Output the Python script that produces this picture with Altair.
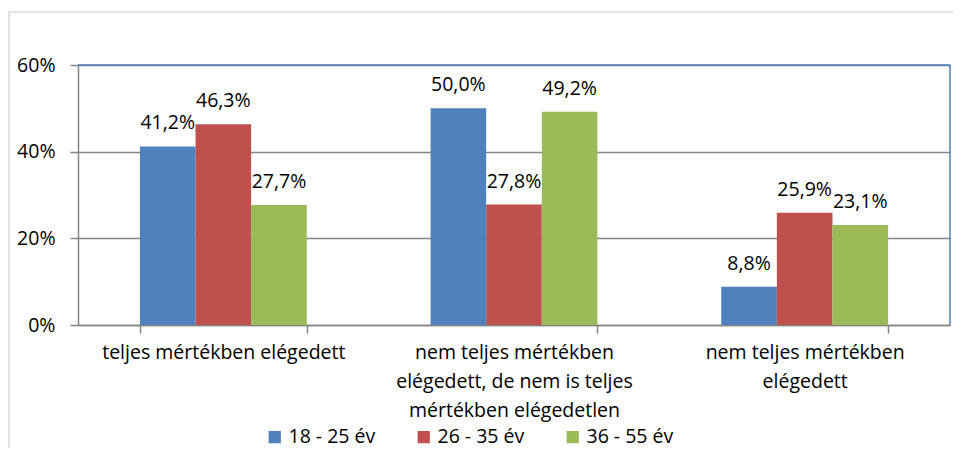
import altair as alt
import pandas as pd

categories = [
    "teljes mértékben elégedett",
    "nem teljes mértékben elégedett, de nem is teljes mértékben elégedetlen",
    "nem teljes mértékben elégedett",
]
category_lines = [
    ["teljes mértékben elégedett"],
    ["nem teljes mértékben", "elégedett, de nem is teljes", "mértékben elégedetlen"],
    ["nem teljes mértékben", "elégedett"],
]
groups = ["18 - 25 év", "26 - 35 év", "36 - 55 év"]
colors = ["#4F81BD", "#C0504D", "#9BBB59"]
values = [
    [41.2, 46.3, 27.7],
    [50.0, 27.8, 49.2],
    [8.8, 25.9, 23.1],
]
y_ticks = [0, 20, 40, 60]

rows = []
for ci, cat in enumerate(categories):
    for gi, g in enumerate(groups):
        v = values[ci][gi]
        rows.append({"cat": cat, "grp": g, "val": v,
                     "lbl": f"{v:.1f}".replace(".", ",") + "%"})
df = pd.DataFrame(rows)

FONT = "Open Sans"
FS = 19.5
W, H = 872, 260

label_expr = ""
for cat, lines in zip(categories, category_lines):
    arr = "[" + ",".join("'" + l + "'" for l in lines) + "]"
    label_expr += f"datum.value == '{cat}' ? {arr} : "
label_expr += "datum.value"

x_enc = alt.X("cat:N", sort=categories, title=None,
              scale=alt.Scale(paddingInner=0.426, paddingOuter=0.213),
              axis=alt.Axis(labelExpr=label_expr, labelAngle=0, labelFont=FONT,
                            labelFontSize=FS, labelColor="#000000",
                            labelLineHeight=29, labelPadding=10, tickBand="extent",
                            tickSize=8, tickColor="#868686", domainColor="#868686",
                            domainWidth=1.5, tickWidth=1.5, grid=False,
                            labelLimit=400))
y_enc = alt.Y("val:Q", title=None,
              scale=alt.Scale(domain=[0, 60], nice=False),
              axis=alt.Axis(values=y_ticks, labelExpr="datum.value + '%'",
                            labelFont=FONT, labelFontSize=FS, labelColor="#000000",
                            labelPadding=15, tickSize=8, tickColor="#868686",
                            tickWidth=1.5, domainColor="#868686", domainWidth=1.5,
                            grid=True, gridColor="#868686", gridWidth=1.5))

base = alt.Chart(df).encode(
    x=x_enc,
    xOffset=alt.XOffset("grp:N", sort=groups, scale=alt.Scale(paddingInner=0, paddingOuter=0)),
    y=y_enc,
)

bars = base.mark_bar().encode(
    color=alt.Color("grp:N", sort=groups,
                    scale=alt.Scale(domain=groups, range=colors),
                    legend=alt.Legend(title=None, orient="none", direction="horizontal",
                                      legendX=187, legendY=362, symbolType="square",
                                      symbolSize=150, symbolStrokeWidth=0,
                                      labelFont=FONT, labelFontSize=FS,
                                      labelColor="#000000", columnPadding=38,
                                      labelOffset=4))
)

texts = base.mark_text(baseline="alphabetic", dy=-17, font=FONT, fontSize=FS,
                       color="#000000").encode(text="lbl:N")

one = pd.DataFrame({"a": [0]})
frame = alt.Chart(one).mark_rect(fill=None, stroke="#D9D9D9", strokeWidth=1.5).encode(
    x=alt.value(-69), x2=alt.value(1000), y=alt.value(-53), y2=alt.value(600))
top_line = alt.Chart(one).mark_rule(color="#4F81BD", strokeWidth=1.5).encode(
    x=alt.value(0), x2=alt.value(W), y=alt.value(0))
right_line = alt.Chart(one).mark_rule(color="#4F81BD", strokeWidth=1.5).encode(
    x=alt.value(W), y=alt.value(0), y2=alt.value(H))

chart = alt.layer(frame, bars, top_line, right_line, texts).properties(
    width=W, height=H,
    autosize=alt.AutoSizeParams(type="none"),
    padding={"left": 70, "top": 57, "right": 3, "bottom": 123},
).configure_view(stroke=None)

chart.save("out.html", embed_options={"renderer": "svg", "actions": False})
